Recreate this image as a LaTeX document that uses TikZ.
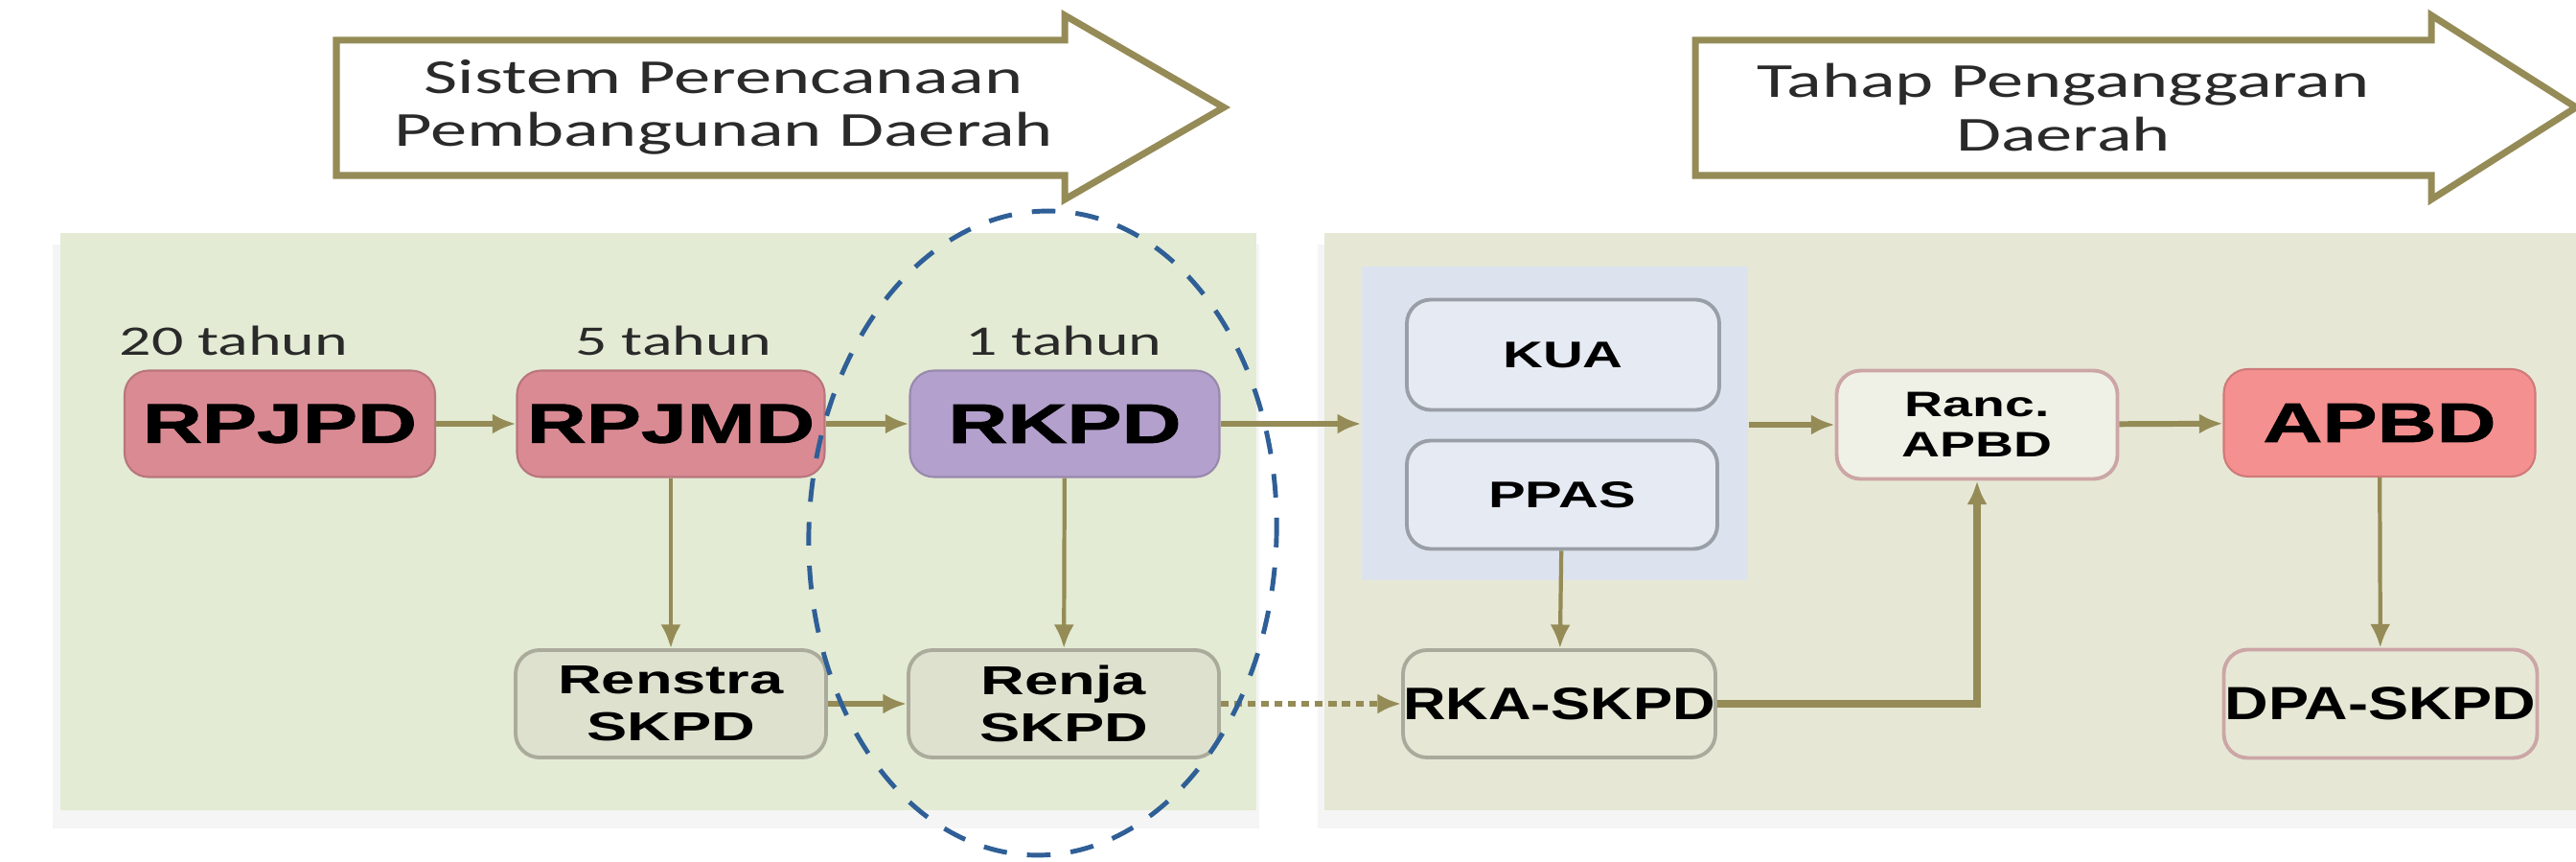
\documentclass[tikz,border=0pt]{standalone}
\usepackage{fontspec}
\usetikzlibrary{arrows.meta}
\newfontfamily\judulfont[FakeStretch=1.5]{Carlito}
\newfontfamily\hurufbesar[FakeStretch=1.48, BoldFeatures={FakeBold=1.5}]{Liberation Sans}
\newfontfamily\hurufkecil[FakeStretch=1.5]{Liberation Sans}
\newfontfamily\hurufsedang[FakeStretch=1.3]{Liberation Sans}
\definecolor{zaitun}{HTML}{958B56}
\definecolor{hijaumuda}{HTML}{E3EBD4}
\definecolor{krem}{HTML}{E6E8D5}
\definecolor{birumuda}{HTML}{DCE3EE}
\definecolor{merahmuda}{HTML}{DA8A93}
\definecolor{ungu}{HTML}{B3A0CC}
\definecolor{salem}{HTML}{F4908F}
\definecolor{biruputus}{HTML}{2F5F96}
\definecolor{abu}{HTML}{ABAB9C}
\definecolor{tulisan}{HTML}{2A2A2A}
\begin{document}
\begin{tikzpicture}[
                    besar/.style={rounded corners=0.25cm, minimum width=3.24cm, minimum height=1.11cm, inner sep=0pt,
                        fill=#1, draw=#1!85!black, line width=0.6pt, font=\hurufbesar\bfseries\fontsize{16.5}{18}\selectfont},
                    kecil/.style={rounded corners=0.25cm, minimum width=3.24cm, minimum height=1.12cm, inner sep=0pt,
                        line width=1.1pt, align=center, font=\hurufkecil\bfseries\fontsize{12}{13.9}\selectfont},
                    tahun/.style={font=\judulfont\fontsize{12.5}{14}\selectfont, text=tulisan},
                    judul/.style={font=\judulfont\fontsize{14.5}{15.8}\selectfont, text=tulisan, align=center},
                    panahbesar/.style={draw=zaitun, line width=2pt, fill=white},
                    panah/.style={draw=zaitun, line width=1.7pt, -{Latex[length=7pt,width=6pt]}},
                    panahv/.style={panah, line width=1.2pt}
                ]
                    \path[use as bounding box, fill=white] (0,0) rectangle (26.88,-8.99);
                    % panah judul
                    \draw[panahbesar] (3.51,-0.42) -- (11.11,-0.42) -- (11.11,-0.16) -- (12.77,-1.12)
                        -- (11.11,-2.08) -- (11.11,-1.83) -- (3.51,-1.83) -- cycle;
                    \draw[panahbesar] (17.69,-0.42) -- (25.37,-0.42) -- (25.37,-0.16) -- (26.88,-1.12)
                        -- (25.37,-2.08) -- (25.37,-1.83) -- (17.69,-1.83) -- cycle;
                    \node[judul] (perencanaan) at (7.55,-1.12) {Sistem Perencanaan\\Pembangunan Daerah};
                    \node[judul] (penganggaran) at (21.53,-1.12) {Tahap Penganggaran\\Daerah};
                    % latar
                    \fill[black!4] (0.55,-2.55) rectangle (13.14,-8.64);
                    \fill[black!4] (13.75,-2.55) rectangle (26.88,-8.64);
                    \fill[hijaumuda] (0.63,-2.43) rectangle (13.11,-8.45);
                    \fill[krem] (13.82,-2.43) rectangle (26.88,-8.45);
                    \node[fill=birumuda, minimum width=4.03cm, minimum height=3.27cm, inner sep=0pt] (kebijakan) at (16.225,-4.415) {};
                    % perencanaan
                    \node[tahun] (tahun20) at (2.44,-3.55) {20 tahun};
                    \node[tahun] (tahun5) at (7.03,-3.55) {5 tahun};
                    \node[tahun] (tahun1) at (11.10,-3.55) {1 tahun};
                    \node[besar=merahmuda] (rpjpd) at (2.92,-4.42) {RPJPD};
                    \node[besar=merahmuda, minimum width=3.21cm] (rpjmd) at (7.00,-4.42) {RPJMD};
                    \node[besar=ungu, minimum width=3.23cm] (rkpd) at (11.11,-4.42) {RKPD};
                    \node[kecil, draw=abu, fill=black!3!krem] (renstra) at (7.00,-7.34) {Renstra\\SKPD};
                    \node[kecil, draw=abu, fill=black!3!krem] (renja) at (11.10,-7.34) {Renja\\SKPD};
                    % penganggaran
                    \node[kecil, draw=black!30!birumuda, fill=birumuda!70!white, minimum width=3.26cm, minimum height=1.15cm,
                        font=\hurufkecil\bfseries\fontsize{11}{13}\selectfont] (kua) at (16.31,-3.70) {KUA};
                    \node[kecil, draw=black!30!birumuda, fill=birumuda!70!white, minimum height=1.13cm,
                        font=\hurufkecil\bfseries\fontsize{11}{13}\selectfont] (ppas) at (16.30,-5.16) {PPAS};
                    \node[kecil, draw=black!25!abu!60!krem, fill=krem, minimum width=3.26cm,
                        font=\hurufsedang\bfseries\fontsize{13.5}{15}\selectfont] (rka) at (16.27,-7.34) {RKA-SKPD};
                    \node[kecil, draw=pink!60!gray, fill=white!40!krem, minimum width=2.93cm, minimum height=1.13cm,
                        font=\hurufkecil\bfseries\fontsize{10.5}{11.8}\selectfont] (ranc) at (20.63,-4.43) {Ranc.\\APBD};
                    \node[besar=salem, minimum width=3.25cm, minimum height=1.12cm] (apbd) at (24.83,-4.41) {APBD};
                    \node[kecil, draw=pink!60!gray, fill=krem, minimum width=3.27cm, minimum height=1.13cm,
                        font=\hurufsedang\bfseries\fontsize{13.8}{15}\selectfont] (dpa) at (24.84,-7.34) {DPA-SKPD};
                    % panah
                    \draw[panah] (rpjpd) -- (rpjmd);
                    \draw[panah] (rpjmd) -- (rkpd);
                    \draw[panah] (rkpd.east) -- (rkpd.east -| kebijakan.west);
                    \draw[panah] (kebijakan.east |- ranc) -- (ranc);
                    \draw[panah] (ranc) -- (apbd);
                    \draw[panahv] (rpjmd) -- (renstra);
                    \draw[panahv] (rkpd) -- (renja);
                    \draw[panahv] (ppas) -- (rka);
                    \draw[panahv] (apbd) -- (dpa);
                    \draw[panah] (renstra) -- (renja);
                    \draw[panah, dash pattern=on 2.3pt off 1.7pt] (renja) -- (rka);
                    \draw[panah, line width=2.1pt] (rka.east) -| (ranc.south);
                    % lingkaran putus-putus
                    \draw[biruputus, line width=1.4pt, dash pattern=on 7pt off 6pt, shift={(10.88,-5.56)}, rotate=-2]
                        (0,0) ellipse [x radius=2.44, y radius=3.36];
                \end{tikzpicture}
\end{document}
